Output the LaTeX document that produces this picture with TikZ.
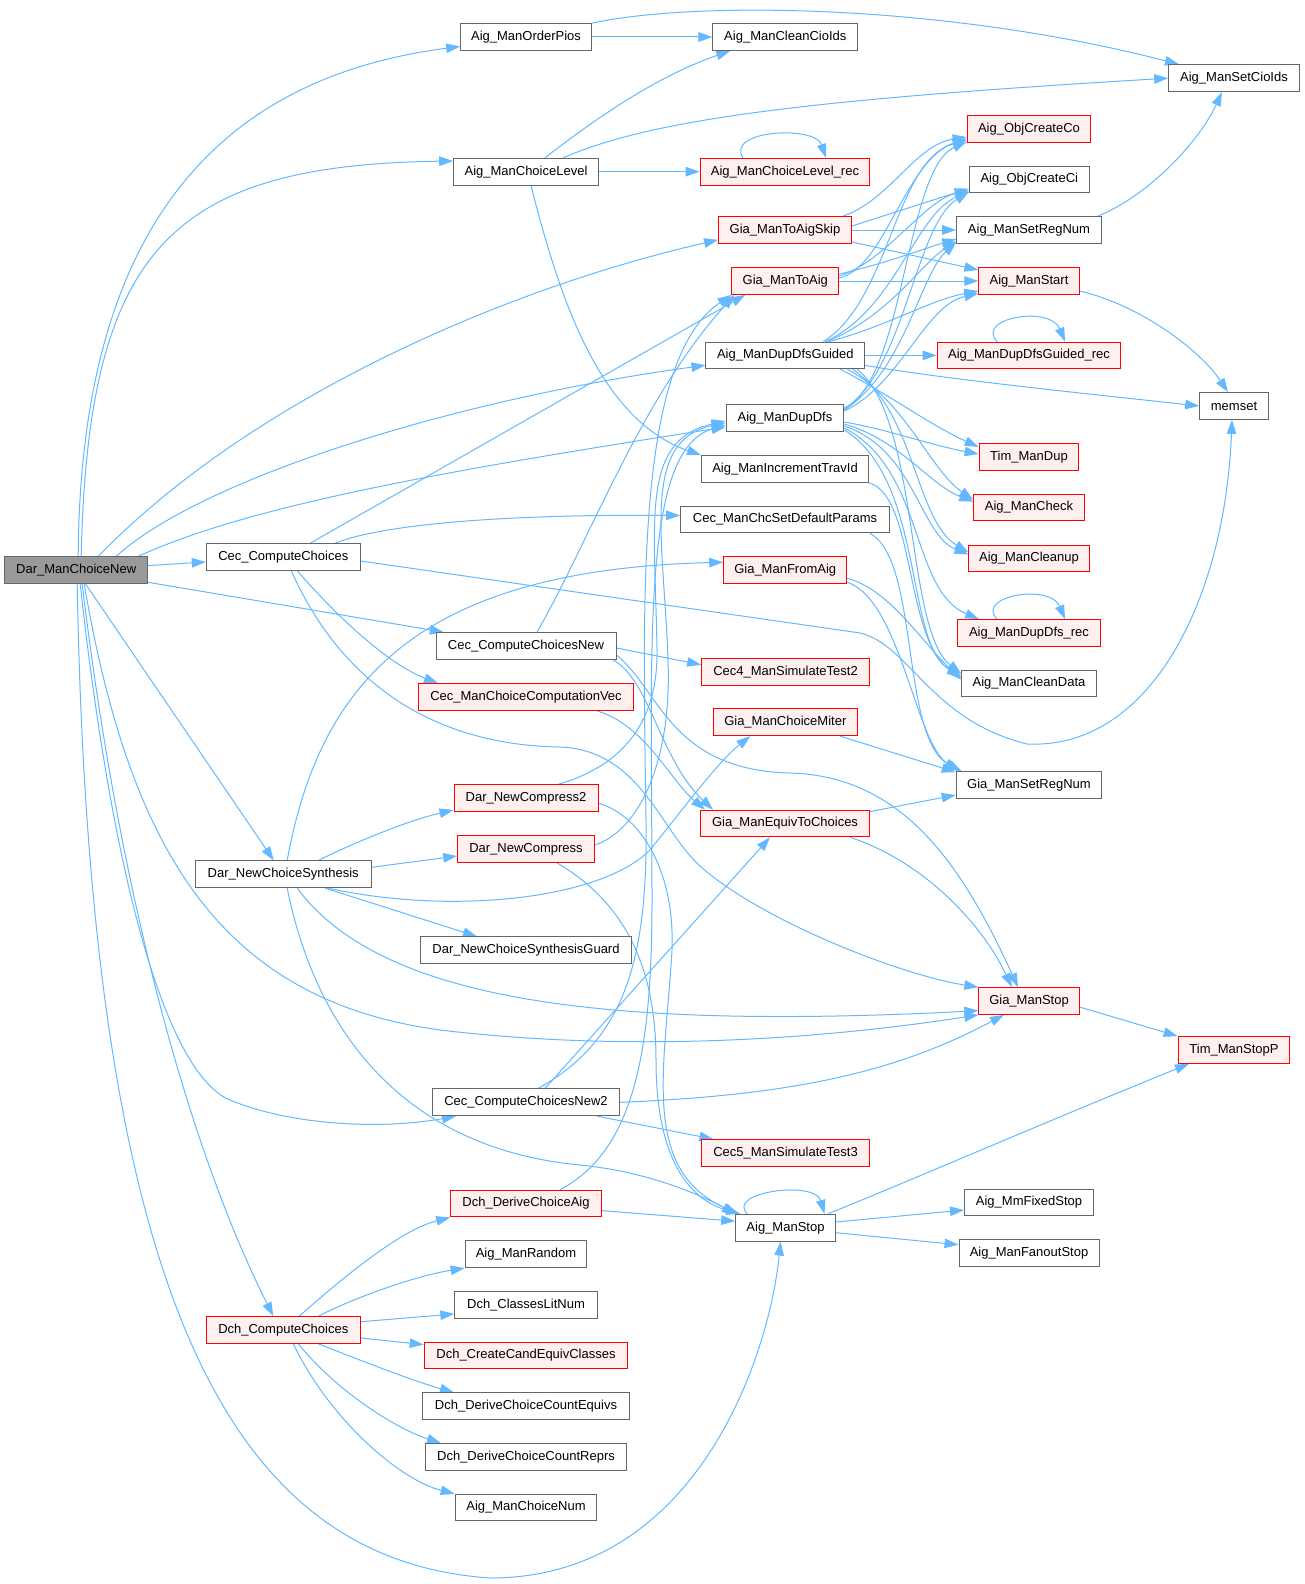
\documentclass[tikz,border=0pt]{standalone}
\usepackage{fontspec}
\setmainfont{Liberation Sans}
\usetikzlibrary{arrows.meta}
\definecolor{edgec}{HTML}{63B8FF}
\definecolor{gbord}{HTML}{666666}
\definecolor{rfill}{HTML}{FFF0F0}
\definecolor{rootf}{HTML}{999999}
\pgfdeclarelayer{bg}
\pgfsetlayers{bg,main}
\tikzset{
 fn/.style={draw=gbord, fill=white, line width=1pt, rectangle, minimum height=26.7pt, inner sep=0pt, font=\fontsize{13}{15}\selectfont, text=black},
 rf/.style={fn, draw=red, fill=rfill},
 root/.style={fn, fill=rootf},
 edg/.style={draw=edgec, line width=1pt, -{Triangle[length=14pt,width=9.5pt]}},
}
\begin{document}
\begin{tikzpicture}[x=1pt,y=-1pt]
\path[use as bounding box] (0,0) rectangle (1305,1584);
% column 1-2
\node[root, minimum width=143] (D) at (76.2,570.2) {Dar\_ManChoiceNew};
\node[fn, minimum width=154] (CC) at (283.3,557) {Cec\_ComputeChoices};
\node[fn, minimum width=175.7] (NCS) at (283.2,874.3) {Dar\_NewChoiceSynthesis};
\node[rf, minimum width=154] (DCC) at (283.3,1330) {Dch\_ComputeChoices};
% column 3
\node[fn, minimum width=130.7] (OP) at (526,37) {Aig\_ManOrderPios};
\node[fn, minimum width=144.6] (CL) at (526,171.7) {Aig\_ManChoiceLevel};
\node[fn, minimum width=180] (CCN) at (526,646) {Cec\_ComputeChoicesNew};
\node[rf, minimum width=214.6] (CV) at (526,697) {Cec\_ManChoiceComputationVec};
\node[rf, minimum width=144] (NC2) at (526,798.2) {Dar\_NewCompress2};
\node[rf, minimum width=136.6] (NC) at (526,849) {Dar\_NewCompress};
\node[fn, minimum width=210.6] (NCG) at (526,950.3) {Dar\_NewChoiceSynthesisGuard};
\node[fn, minimum width=187.4] (CCN2) at (526,1102.3) {Cec\_ComputeChoicesNew2};
\node[rf, minimum width=150.6] (DCA) at (526,1203.6) {Dch\_DeriveChoiceAig};
\node[fn, minimum width=121.7] (RND) at (526,1254.3) {Aig\_ManRandom};
\node[fn, minimum width=142.3] (CLN2) at (526,1305) {Dch\_ClassesLitNum};
\node[rf, minimum width=203.7] (CEC) at (526,1355.6) {Dch\_CreateCandEquivClasses};
\node[fn, minimum width=207] (DCE) at (526,1406.3) {Dch\_DeriveChoiceCountEquivs};
\node[fn, minimum width=201.7] (DCR) at (526,1457) {Dch\_DeriveChoiceCountReprs};
\node[fn, minimum width=141.7] (CN) at (526,1507.6) {Aig\_ManChoiceNum};
% column 4
\node[fn, minimum width=144.7] (CCI) at (785.3,37) {Aig\_ManCleanCioIds};
\node[rf, minimum width=169.7] (CLR) at (785,171.7) {Aig\_ManChoiceLevel\_rec};
\node[rf, minimum width=133] (TAS) at (785,230) {Gia\_ManToAigSkip};
\node[rf, minimum width=106.7] (TA) at (785.3,281) {Gia\_ManToAig};
\node[fn, minimum width=158.7] (DDG) at (785.3,355.4) {Aig\_ManDupDfsGuided};
\node[fn, minimum width=117.7] (DD) at (785,418) {Aig\_ManDupDfs};
\node[fn, minimum width=167] (ITI) at (785,469) {Aig\_ManIncrementTravId};
\node[fn, minimum width=208.6] (CSP) at (785,519.5) {Cec\_ManChcSetDefaultParams};
\node[rf, minimum width=123] (FA) at (785.2,570.2) {Gia\_ManFromAig};
\node[rf, minimum width=167.6] (C4) at (785.5,671.7) {Cec4\_ManSimulateTest2};
\node[rf, minimum width=144] (CM) at (785.3,722.3) {Gia\_ManChoiceMiter};
\node[rf, minimum width=168.3] (ETC) at (785,823.5) {Gia\_ManEquivToChoices};
\node[rf, minimum width=167.6] (C5) at (785.5,1153) {Cec5\_ManSimulateTest3};
\node[fn, minimum width=99.6] (AMS) at (785.5,1227.7) {Aig\_ManStop};
% column 5
\node[rf, minimum width=123.7] (OCo) at (1029,129) {Aig\_ObjCreateCo};
\node[fn, minimum width=120] (OCi) at (1029.3,179.6) {Aig\_ObjCreateCi};
\node[fn, minimum width=144.6] (SRN) at (1029,230) {Aig\_ManSetRegNum};
\node[rf, minimum width=100.3] (MS) at (1029,281) {Aig\_ManStart};
\node[rf, minimum width=183.7] (DDGR) at (1029,355.4) {Aig\_ManDupDfsGuided\_rec};
\node[rf, minimum width=99.7] (TMD) at (1029,457) {Tim\_ManDup};
\node[rf, minimum width=110.6] (CHK) at (1029,507.6) {Aig\_ManCheck};
\node[rf, minimum width=120.3] (CLN) at (1029,558.4) {Aig\_ManCleanup};
\node[rf, minimum width=142.6] (DDR) at (1029,633) {Aig\_ManDupDfs\_rec};
\node[fn, minimum width=134.6] (CD) at (1029,683.6) {Aig\_ManCleanData};
\node[fn, minimum width=145.7] (GSR) at (1029,785) {Gia\_ManSetRegNum};
\node[rf, minimum width=100.3] (GS) at (1029,1001) {Gia\_ManStop};
\node[fn, minimum width=129] (MFS) at (1029,1202.4) {Aig\_MmFixedStop};
\node[fn, minimum width=140] (MFO) at (1029,1253.3) {Aig\_ManFanoutStop};
% column 6
\node[fn, minimum width=130.6] (SCI) at (1234,78.2) {Aig\_ManSetCioIds};
\node[fn, minimum width=68.6] (MEM) at (1234,406) {memset};
\node[rf, minimum width=111.7] (TSP) at (1234,1050) {Tim\_ManStopP};

\begin{pgfonlayer}{bg}
% Dar_ManChoiceNew
\draw[edg] ([xshift=2]D.north) .. controls (80,250) and (200,80) .. ([yshift=-9.5]OP.west);
\draw[edg] ([xshift=5]D.north) .. controls (88,250) and (170,165) .. ([yshift=10.7]CL.west);
\draw[edg] ([xshift=22]D.north) .. controls (250,400) and (500,290) .. ([yshift=4]TAS.south west);
\draw[edg] ([xshift=40]D.north) .. controls (200,480) and (450,400) .. ([yshift=4]DDG.south west);
\draw[edg] ([xshift=62]D.north) .. controls (250,505) and (450,470) .. ([yshift=-9]DD.west);
\draw[edg] (D) -- (CC);
\draw[edg] (D) -- (CCN);
\draw[edg] (D) -- (NCS);
\draw[edg] ([xshift=8]D.south) .. controls (130,850) and (220,1000) .. (440,1030) .. controls (650,1055) and (850,1035) .. (GS.south west);
\draw[edg] ([xshift=4]D.south) .. controls (115,900) and (170,1075) .. (230,1100) .. controls (290,1125) and (380,1130) .. ([xshift=-70]CCN2.south);
\draw[edg] ([xshift=6]D.south) .. controls (120,900) and (190,1150) .. ([xshift=-10]DCC.north);
\draw[edg] ([xshift=1]D.south) .. controls (90,1300) and (230,1560) .. (490,1578) .. controls (700,1578) and (770,1350) .. ([xshift=-5]AMS.south);
% Cec_ComputeChoices
\draw[edg] ([xshift=27]CC.north) -- ([xshift=-40]TA.south);
\draw[edg] ([xshift=52]CC.north) .. controls (380,525) and (500,514) .. ([yshift=4]CSP.west);
\draw[edg] ([yshift=-4]CC.east) -- (860,633) .. controls (910,645) and (930,720) .. (1027,744) .. controls (1150,750) and (1225,600) .. ([xshift=-2]MEM.south);
\draw[edg] ([xshift=14]CC.south) .. controls (340,620) and (390,665) .. ([xshift=-88]CV.north);
\draw[edg] ([xshift=8]CC.south) .. controls (340,680) and (430,745) .. (560,747) .. controls (640,750) and (660,830) .. (700,866) .. controls (760,920) and (900,975) .. (GS.north west);
% Cec_ComputeChoicesNew
\draw[edg] ([xshift=11]CCN.north) .. controls (590,540) and (640,400) .. ([xshift=3]TA.south west);
\draw[edg] ([yshift=-2]CCN.east) -- ([yshift=7]C4.west);
\draw[edg] ([xshift=87]CCN.south) .. controls (650,680) and (660,760) .. ([xshift=-72]ETC.north);
\draw[edg] ([yshift=-9]CCN.east) .. controls (660,690) and (670,770) .. (790,773) .. controls (900,776) and (960,860) .. ([xshift=-11]GS.north);
\draw[edg] ([xshift=71]CV.south) .. controls (645,725) and (670,780) .. ([xshift=-80]ETC.north);
% Dar_NewChoiceSynthesis
\draw[edg] ([xshift=4]NCS.north) .. controls (320,680) and (420,570) .. ([yshift=8]FA.west);
\draw[edg] ([xshift=35]NCS.north) .. controls (360,840) and (410,820) .. ([yshift=2]NC2.south west);
\draw[edg] ([yshift=7]NCS.east) -- ([yshift=-7]NC.west);
\draw[edg] ([xshift=42]NCS.south) -- ([xshift=-49]NCG.north);
\draw[edg] ([xshift=45]NCS.south) .. controls (450,915) and (600,900) .. (650,850) .. controls (690,800) and (720,760) .. ([xshift=-35]CM.south);
\draw[edg] ([xshift=14]NCS.south) .. controls (380,1000) and (600,1030) .. ([yshift=-9.7]GS.west);
\draw[edg] ([xshift=4]NCS.south) .. controls (320,1050) and (420,1150) .. (580,1165) .. controls (650,1172) and (700,1195) .. ([xshift=1]AMS.north west);
% Cec_ComputeChoicesNew2
\draw[edg] ([xshift=12]CCN2.north) .. controls (625,1040) and (648,960) .. (646,820) .. controls (643,600) and (635,360) .. (TA.south west);
\draw[edg] ([xshift=19]CCN2.north) -- ([xshift=-15]ETC.south);
\draw[edg] (CCN2.east) .. controls (800,1095) and (900,1070) .. ([xshift=-25]GS.south);
\draw[edg] ([xshift=71]CCN2.south) -- ([xshift=-72]C5.north);
% compress bundle
\draw[edg] ([xshift=32]NC2.north) .. controls (625,765) and (658,720) .. (657,650) .. controls (655,520) and (640,440) .. ([yshift=-3]DD.west);
\draw[edg] ([yshift=4]NC.east) .. controls (640,830) and (672,760) .. (668,660) .. controls (664,540) and (640,440) .. ([yshift=-5]DD.west);
\draw[edg] ([xshift=34]DCA.north) .. controls (635,1150) and (652,1050) .. (652,900) .. controls (652,650) and (640,450) .. ([yshift=-7]DD.west);
\draw[edg] ([yshift=-5]NC2.east) .. controls (640,815) and (675,870) .. (672,950) .. controls (665,1070) and (640,1170) .. ([xshift=3]AMS.north west);
\draw[edg] ([xshift=31]NC.south) .. controls (620,900) and (656,960) .. (656,1060) .. controls (656,1160) and (690,1200) .. ([xshift=5]AMS.north west);
\draw[edg] ([yshift=-7]DCA.east) -- ([yshift=6.5]AMS.west);
% Aig_ManChoiceLevel / OrderPios
\draw[edg] ([xshift=19]CL.north) .. controls (600,115) and (660,75) .. ([xshift=-55]CCI.south);
\draw[edg] ([xshift=37]CL.north) .. controls (650,120) and (800,100) .. (SCI.west);
\draw[edg] (CL) -- (CLR);
\draw[edg] ([xshift=5]CL.south) .. controls (560,300) and (600,420) .. (ITI.north west);
\draw[edg] ([xshift=-42]CLR.north) .. controls (725,130) and (815,125) .. ([xshift=41]CLR.north);
\draw[edg] (OP) -- (CCI);
\draw[edg] (OP.north east) .. controls (700,0) and (950,5) .. ([xshift=-55]SCI.north);
% Gia_ManToAigSkip
\draw[edg] ([xshift=58]TAS.north) .. controls (890,200) and (915,145) .. ([yshift=-8]OCo.west);
\draw[edg] ([yshift=4]TAS.east) -- ([yshift=-9]OCi.west);
\draw[edg] (TAS) -- (SRN);
\draw[edg] ([yshift=-12]TAS.east) -- ([yshift=11]MS.west);
% Gia_ManToAig
\draw[edg] ([yshift=3]TA.east) .. controls (885,268) and (905,160) .. ([yshift=-9.5]OCo.west);
\draw[edg] ([yshift=5]TA.east) .. controls (885,262) and (925,200) .. ([yshift=-11]OCi.west);
\draw[edg] ([yshift=7]TA.east) .. controls (880,265) and (920,250) .. ([yshift=-9]SRN.west);
\draw[edg] (TA) -- (MS);
% Aig_ManDupDfsGuided
\draw[edg] ([xshift=38]DDG.north) .. controls (890,300) and (895,160) .. ([yshift=-11]OCo.west);
\draw[edg] ([xshift=40]DDG.north) .. controls (895,310) and (915,215) .. ([yshift=-12]OCi.west);
\draw[edg] ([xshift=42]DDG.north) .. controls (890,315) and (920,265) .. ([yshift=-11]SRN.west);
\draw[edg] ([xshift=44]DDG.north) .. controls (890,325) and (930,300) .. ([yshift=-10]MS.west);
\draw[edg] (DDG) -- (DDGR);
\draw[edg] ([xshift=-32]DDGR.north) .. controls (975,318) and (1050,305) .. ([xshift=36]DDGR.north);
\draw[edg] ([yshift=-10]DDG.east) .. controls (950,380) and (1100,395) .. (MEM.west);
\draw[edg] ([xshift=55]DDG.south) .. controls (890,395) and (930,425) .. ([yshift=10]TMD.west);
\draw[edg] ([xshift=62]DDG.south) .. controls (905,400) and (930,470) .. ([yshift=8]CHK.west);
\draw[edg] ([xshift=67]DDG.south) .. controls (915,410) and (915,520) .. ([yshift=6]CLN.west);
\draw[edg] ([xshift=72]DDG.south) .. controls (920,420) and (905,630) .. ([yshift=10]CD.west);
% Aig_ManDupDfs
\draw[edg] ([yshift=10]DD.east) .. controls (905,380) and (905,170) .. ([yshift=-12.5]OCo.west);
\draw[edg] ([yshift=9]DD.east) .. controls (905,370) and (915,225) .. ([yshift=-12.5]OCi.west);
\draw[edg] ([yshift=8]DD.east) .. controls (905,370) and (920,275) .. ([yshift=-12.5]SRN.west);
\draw[edg] ([yshift=7]DD.east) .. controls (900,385) and (925,305) .. ([yshift=-12.5]MS.west);
\draw[edg] ([yshift=-4]DD.east) .. controls (890,430) and (930,445) .. ([yshift=3]TMD.west);
\draw[edg] ([yshift=-6]DD.east) .. controls (900,440) and (930,485) .. ([yshift=6]CHK.west);
\draw[edg] ([yshift=-8]DD.east) .. controls (915,450) and (920,535) .. ([yshift=4]CLN.west);
\draw[edg] ([yshift=-10]DD.east) .. controls (925,470) and (910,590) .. ([xshift=-50]DDR.north);
\draw[edg] ([xshift=-32]DDR.north) .. controls (975,596) and (1050,583) .. ([xshift=36]DDR.north);
\draw[edg] ([yshift=-12]DD.east) .. controls (925,480) and (905,645) .. ([yshift=8]CD.west);
\draw[edg] (ITI.south east) .. controls (915,495) and (905,640) .. ([yshift=6]CD.west);
% Gia side
\draw[edg] ([yshift=-8]FA.east) .. controls (890,590) and (920,640) .. ([yshift=4]CD.west);
\draw[edg] ([yshift=-12]FA.east) .. controls (900,600) and (915,740) .. ([xshift=2]GSR.north west);
\draw[edg] ([xshift=85]CSP.south) .. controls (920,560) and (900,740) .. ([xshift=6]GSR.north west);
\draw[edg] ([xshift=55]CM.south) -- ([yshift=-1]GSR.north west);
\draw[edg] ([yshift=-2]ETC.north east) -- ([yshift=-10]GSR.west);
\draw[edg] ([xshift=65]ETC.south) .. controls (920,860) and (980,920) .. ([xshift=-17]GS.north);
% right column
\draw[edg] ([yshift=-10]MS.east) .. controls (1140,305) and (1200,350) .. ([xshift=-6]MEM.north);
\draw[edg] ([xshift=-4]SRN.north east) .. controls (1150,195) and (1200,140) .. ([xshift=-12]SCI.south);
\draw[edg] ([yshift=-6]GS.east) -- (TSP.north west);
\draw[edg] ([xshift=-8]AMS.north east) .. controls (900,1185) and (1050,1120) .. ([xshift=-45]TSP.south);
\draw[edg] ([yshift=5.7]AMS.east) -- ([yshift=-7.6]MFS.west);
\draw[edg] ([yshift=-5]AMS.east) -- ([yshift=8.6]MFO.west);
\draw[edg] ([xshift=-38]AMS.north) .. controls (725,1192) and (815,1180) .. ([xshift=39]AMS.north);
% Dch_ComputeChoices
\draw[edg] ([xshift=16]DCC.north) .. controls (340,1280) and (400,1230) .. (DCA.south west);
\draw[edg] ([xshift=35]DCC.north) .. controls (360,1295) and (420,1275) .. (RND.south west);
\draw[edg] ([yshift=8.3]DCC.east) -- ([yshift=-9]CLN2.west);
\draw[edg] ([yshift=-8]DCC.east) -- ([yshift=11]CEC.west);
\draw[edg] ([xshift=35]DCC.south) .. controls (360,1360) and (410,1380) .. ([xshift=-72]DCE.north);
\draw[edg] ([xshift=15]DCC.south) .. controls (340,1395) and (400,1430) .. ([xshift=-85]DCR.north);
\draw[edg] ([xshift=10]DCC.south) .. controls (330,1420) and (400,1480) .. (CN.north west);
\end{pgfonlayer}
\end{tikzpicture}
\end{document}
